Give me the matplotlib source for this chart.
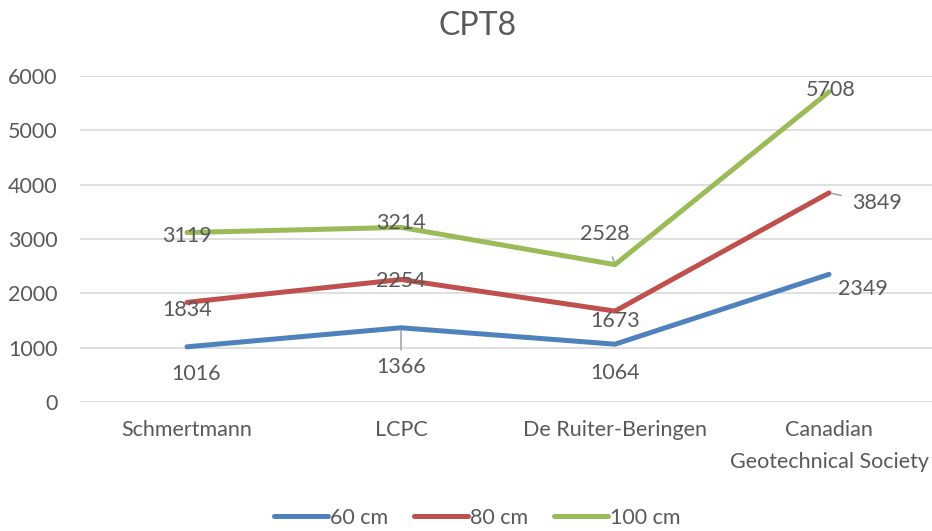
import matplotlib
matplotlib.use("Agg")
import matplotlib.pyplot as plt

categories = ["Schmertmann", "LCPC", "De Ruiter-Beringen", "Canadian\nGeotechnical Society"]
series_names = ["60 cm", "80 cm", "100 cm"]
s60 = [1016, 1366, 1064, 2349]
s80 = [1834, 2254, 1673, 3849]
s100 = [3119, 3214, 2528, 5708]
yticks = [0, 1000, 2000, 3000, 4000, 5000, 6000]

colors = ["#4F81BD", "#C0504D", "#9BBB59"]
txt = "#595959"
plt.rcParams['font.family'] = ['Lato', 'DejaVu Sans']
fs = 15.5

fig = plt.figure(figsize=(9.32, 5.31), dpi=100)
ax = fig.add_axes([80/932, 129/531, 856/932, 326/531])

x = list(range(len(categories)))
series = [s60, s80, s100]
for vals, name, c in zip(series, series_names, colors):
    ax.plot(x, vals, color=c, lw=3.6, solid_capstyle='round', label=name, zorder=3)

# label offsets in pixels (dx, dy screen; dy positive = up)
offsets = {
    0: [(9, -27), (0, -8), (0, -3)],
    1: [(0, -39), (0, -1), (0, 4)],
    2: [(0, -29), (0, -10), (-10, 31)],
    3: [(34, -15), (48, -10), (2, 2)],
}
leaders = {(1, 0): 3, (2, 2): 8, (3, 1): 6}
px = 0.72
for si, vals in enumerate(series):
    for ci, v in enumerate(vals):
        dx, dy = offsets[ci][si]
        ap = None
        if (ci, si) in leaders:
            ap = dict(arrowstyle='-', color='#A6A6A6', lw=1.2,
                      shrinkA=leaders[(ci, si)], shrinkB=2)
        ax.annotate(str(v), (ci, v), xytext=(dx*px, dy*px), textcoords='offset points',
                    ha='center', va='center', fontsize=fs, color=txt,
                    arrowprops=ap, zorder=4)

ax.set_xlim(-0.5, len(categories)-0.5)
ax.set_ylim(0, 6000)
ax.set_yticks(yticks)
ax.set_yticklabels([str(t) for t in yticks])
ax.set_xticks(x)
ax.set_xticklabels(categories, linespacing=1.75)
ax.tick_params(axis='both', length=0, labelsize=fs, labelcolor=txt)
ax.tick_params(axis='y', pad=16)
ax.tick_params(axis='x', pad=13)
ax.grid(axis='y', color='#D9D9D9', lw=1.2)
ax.set_axisbelow(True)
for s in ax.spines.values():
    s.set_visible(False)

fig.suptitle("CPT8", y=0.98, fontsize=23, color=txt, x=0.512)
leg = fig.legend(loc='lower center', ncol=3, frameon=False, bbox_to_anchor=(0.512, -0.03),
                 fontsize=fs, handlelength=2.5, handletextpad=0.1, columnspacing=1.2)
for t in leg.get_texts():
    t.set_color(txt)

fig.savefig("out.png", dpi=100)
